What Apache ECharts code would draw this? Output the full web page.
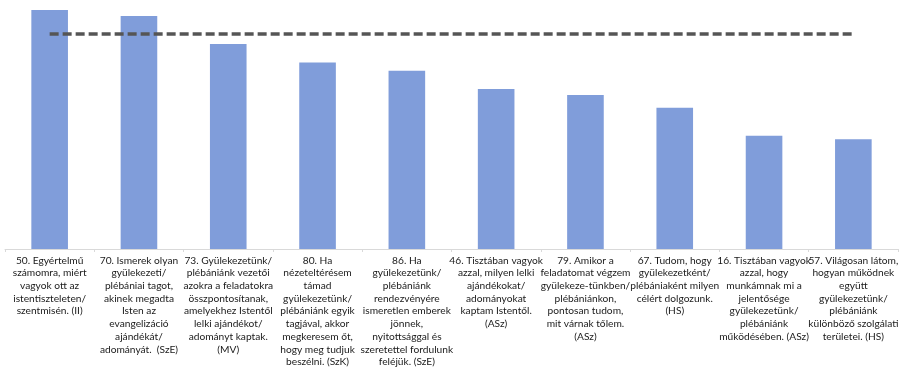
<!DOCTYPE html>
<html>
<head>
<meta charset="utf-8">
<script src="https://cdn.jsdelivr.net/npm/echarts@6/dist/echarts.min.js"></script>
<style>
  html, body { margin: 0; padding: 0; background: #fff; }
  #chart { width: 903px; height: 367px; }
</style>
</head>
<body>
<div id="chart"></div>
<script>
// kérdések (kategóriák), sortörésekkel ahogy a képen
const categories = [
  "50. Egyértelmű\nszámomra, miért\nvagyok ott az\nistentiszteleten/\nszentmisén. (II)",
  "70. Ismerek olyan\ngyülekezeti/\nplébániai tagot,\nakinek megadta\nIsten az\nevangelizáció\najándékát/\nadományát.  (SzE)",
  "73. Gyülekezetünk/\nplébániánk vezetői\nazokra a feladatokra\nösszpontosítanak,\namelyekhez Istentől\nlelki ajándékot/\nadományt kaptak.\n(MV)",
  "80. Ha\nnézeteltérésem\ntámad\ngyülekezetünk/\nplébániánk egyik\ntagjával, akkor\nmegkeresem őt,\nhogy meg tudjuk\nbeszélni. (SzK)",
  "86. Ha\ngyülekezetünk/\nplébániánk\nrendezvényére\nismeretlen emberek\njönnek,\nnyitottsággal és\nszeretettel fordulunk\nfeléjük. (SzE)",
  "46. Tisztában vagyok\nazzal, milyen lelki\najándékokat/\nadományokat\nkaptam Istentől.\n(ASz)",
  "79. Amikor a\nfeladatomat végzem\ngyülekeze-tünkben/\nplébániánkon,\npontosan tudom,\nmit várnak tőlem.\n(ASz)",
  "67. Tudom, hogy\ngyülekezetként/\nplébániaként milyen\ncélért dolgozunk.\n(HS)",
  "16. Tisztában vagyok\nazzal, hogy\nmunkámnak mi a\njelentősége\ngyülekezetünk/\nplébániánk\nműködésében. (ASz)",
  "57. Világosan látom,\nhogyan működnek\negyütt\ngyülekezetünk/\nplébániánk\nkülönböző szolgálati\nterületei. (HS)"
];

// oszlopok értékei (a képről becsülve, 0-100 skálán)
const values = [96.0, 93.6, 82.3, 74.9, 71.6, 64.3, 61.8, 56.7, 45.5, 44.1];

// szaggatott vonal szintje
const refLevel = 86.3;
const refLine = categories.map(() => refLevel);

const chart = echarts.init(document.getElementById("chart"));
chart.setOption({
  animation: false,
  grid: {
    left: 5,
    right: 5,
    top: 0,
    bottom: 118,
    containLabel: false,
    outerBoundsMode: "none"
  },
  xAxis: {
    type: "category",
    data: categories,
    axisLine: {
      lineStyle: { color: "#d9d9d9", width: 1 }
    },
    axisTick: {
      show: true,
      length: 3,
      lineStyle: { color: "#d9d9d9" }
    },
    axisLabel: {
      interval: 0,
      margin: 5,
      color: "#1a1a1a",
      fontFamily: "Lato",
      fontSize: 10.2,
      lineHeight: 12.7,
      align: "center"
    }
  },
  yAxis: {
    type: "value",
    min: 0,
    max: 100,
    show: false,
    splitLine: { show: false }
  },
  series: [
    {
      type: "bar",
      data: values,
      barWidth: "41%",
      itemStyle: { color: "#809dda" }
    },
    {
      type: "line",
      data: refLine,
      symbol: "none",
      lineStyle: {
        color: "#555555",
        width: 3.5,
        type: [9, 4]
      },
      z: 5
    }
  ]
});
</script>
</body>
</html>
